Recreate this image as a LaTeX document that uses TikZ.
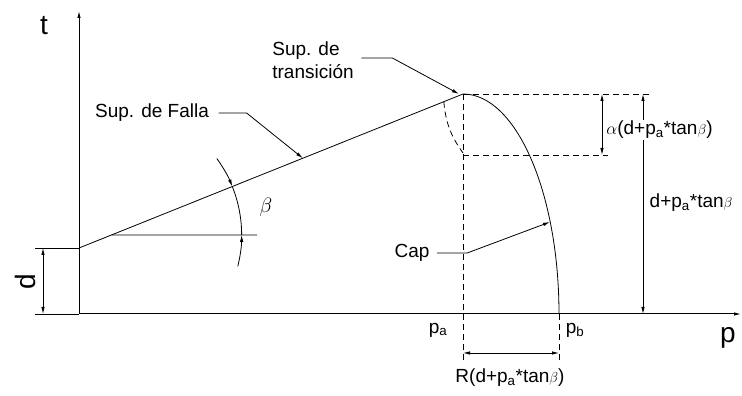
\documentclass[tikz,border=0pt]{standalone}
\usepackage{fontspec}
\setmainfont{Liberation Sans}
\usetikzlibrary{arrows.meta,positioning,calc}

\begin{document}
\begin{tikzpicture}[x=1pt, y=1pt, line width=0.8pt,
  every node/.style={font=\fontsize{19}{23}\selectfont},
  grande/.style={font=\fontsize{28}{30}\selectfont},
  flecha/.style={-{Latex[length=7pt,width=3.5pt]}},
  cota/.style={{Latex[length=7pt,width=3.5pt]}-{Latex[length=7pt,width=3.5pt]}},
  aux/.style={dash pattern=on 6pt off 4pt}]
  \useasboundingbox (0,0) rectangle (742,396);

  % puntos principales
  \coordinate (O) at (79,82);
  \coordinate (D) at (79,148);
  \coordinate (A) at (463,302);
  \coordinate (B) at (559,82);

  % ejes
  \coordinate (pfin) at (741,82);
  \coordinate (tfin) at (79,385);
  \draw[flecha, line width=1pt] (O) -- (pfin);
  \draw[flecha, line width=1pt] (O) -- (tfin);
  \node[grande] (t) at (44,370) {t};
  \node[grande] (p) at (728,58) {p};

  % cota d
  \coordinate (d0) at (35,82);
  \coordinate (d1) at (35,148);
  \draw (d0) -- (O);
  \draw (d1) -- (D);
  \draw[cota] ($(d1)+(8,0)$) -- ($(d0)+(8,0)$);
  \node[grande, rotate=90] (d) at (25,114) {d};

  % superficie de falla
  \draw (D) -- (A);
  \coordinate (E) at ($(D)!0.085!(A)$);
  \coordinate (Eh) at (257,161);
  \draw (E) -- (Eh);

  % angulo beta
  \draw ($(E)+(21.85:130)$) arc[start angle=21.85, end angle=0, radius=130];
  \draw[flecha] ($(E)+(36:130)$) arc[start angle=36, end angle=21.85, radius=130];
  \draw[flecha] ($(E)+(-14:130)$) arc[start angle=-14, end angle=0, radius=130];
  \node (beta) at (266,189) {\fontsize{22}{24}\selectfont$\beta$};

  % etiqueta falla
  \node (falla) at (152,283) {Sup. de Falla};
  \coordinate (F) at ($(D)!0.583!(A)$);
  \draw[flecha] ([xshift=6pt]falla.east) -- ++(28,0) -- (F);

  % superficie de transicion
  \node[align=left] (trans) at (313,336) {Sup. de\\transición};
  \draw[flecha] ([xshift=4pt,yshift=2pt]trans.east) -- ++(31,0) -- ([xshift=-4pt]A);
  \coordinate (T1) at ($(D)!0.95!(A)$);
  \coordinate (T2) at (463,243);
  \draw[aux] (T1) to[bend right=15] (T2);

  % lineas auxiliares
  \coordinate (pa0) at (463,36);
  \coordinate (pb0) at (559,36);
  \coordinate (A1) at (650,302);
  \coordinate (C1) at (463,241);
  \coordinate (C2) at (608,241);
  \draw[aux] (A) -- (A1);
  \draw[aux] (A) -- (pa0);
  \draw[aux] (C1) -- (C2);
  \draw[aux] (B) -- (pb0);

  % cap
  \draw (A) arc[start angle=90, end angle=0, x radius=96, y radius=220];
  \node (cap) at (412,143) {Cap};
  \coordinate (K) at (550,174);
  \draw[flecha] ([xshift=4pt]cap.east) -- ++(30,0) -- (K);

  % cotas
  \draw[cota] (602,302) -- (602,241);
  \draw[cota] (643,302) -- (643,82);
  \draw[cota] (463,43) -- (559,43);

  % etiquetas de cotas
  \node[fill=white, inner sep=1pt, anchor=west] (alfa) at (605,266)
    {$\alpha$(d+p\textsubscript{a}*tan$\scriptstyle\beta$)};
  \node[anchor=west] (dtan) at (646,193) {d+p\textsubscript{a}*tan$\scriptstyle\beta$};
  \node (R) at (510,18) {R(d+p\textsubscript{a}*tan$\scriptstyle\beta$)};
  \node (pa) at (438,66) {p\textsubscript{a}};
  \node (pb) at (575,66) {p\textsubscript{b}};
\end{tikzpicture}
\end{document}
